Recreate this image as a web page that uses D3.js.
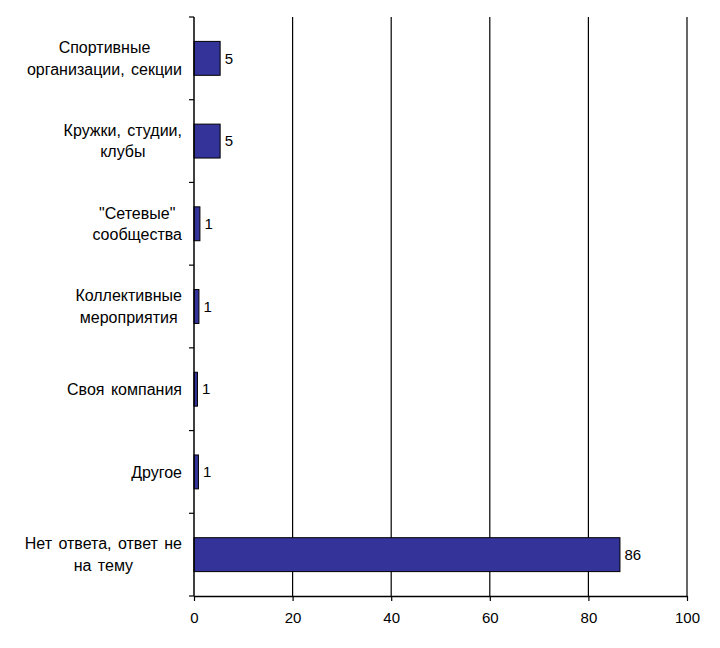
<!DOCTYPE html>
<html>
<head>
<meta charset="utf-8">
<script src="https://cdn.jsdelivr.net/npm/d3@7"></script>
<style>
  body { margin: 0; background: #fff; }
  svg { display: block; font-family: Arial, "Liberation Sans", sans-serif; }
</style>
</head>
<body>
<svg width="720" height="648"></svg>
<script>
const categories = [
  "Спортивные\nорганизации, секции",
  "Кружки, студии,\nклубы",
  "\"Сетевые\"\nсообщества",
  "Коллективные\nмероприятия",
  "Своя компания",
  "Другое",
  "Нет ответа, ответ не\nна тему"
];
const values = [5.3, 5.3, 1.2, 1.0, 0.7, 0.9, 86.4];
const xTicks = [0, 20, 40, 60, 80, 100];

const margin = { top: 17, right: 33, bottom: 52, left: 194 },
      width = 720 - margin.left - margin.right,
      height = 648 - margin.top - margin.bottom;
const fontSize = 15;

const svg = d3.select("svg")
  .append("g")
  .attr("transform", `translate(${margin.left},${margin.top})`);

const x = d3.scaleLinear().domain([0, 100]).range([0, width]);
const y = d3.scaleBand().domain(categories).range([0, height])
  .paddingInner(0.59).paddingOuter(0.295);

// vertical gridlines
svg.selectAll(".grid")
  .data(xTicks.filter(d => d > 0))
  .enter()
  .append("line")
  .attr("x1", d => x(d)).attr("x2", d => x(d))
  .attr("y1", 0).attr("y2", height)
  .attr("stroke", "#000").attr("stroke-width", 1.2);

// bars
svg.selectAll(".bar")
  .data(categories)
  .enter()
  .append("rect")
  .attr("x", x(0))
  .attr("y", d => y(d))
  .attr("width", (d, i) => x(values[i]) - x(0))
  .attr("height", y.bandwidth())
  .attr("fill", "#333399")
  .attr("stroke", "#000")
  .attr("stroke-width", 1);

// value labels
svg.selectAll(".val")
  .data(categories)
  .enter()
  .append("text")
  .attr("x", (d, i) => x(values[i]) + 4.5)
  .attr("y", d => y(d) + y.bandwidth() / 2)
  .attr("dy", "0.35em")
  .attr("font-size", fontSize)
  .text((d, i) => d3.format(".0f")(values[i]));

// x axis
const xAxis = svg.append("g")
  .attr("transform", `translate(0,${height})`)
  .call(d3.axisBottom(x).tickValues(xTicks).tickSize(5).tickSizeOuter(0).tickPadding(11));
xAxis.select(".domain").attr("stroke", "#000").attr("stroke-width", 1.5);
xAxis.selectAll(".tick line").attr("stroke", "#000").attr("stroke-width", 1.2);
xAxis.selectAll(".tick text").attr("font-size", fontSize).attr("font-family", "Arial, 'Liberation Sans', sans-serif").attr("fill", "#000");

// y axis line and category boundary ticks
svg.append("line")
  .attr("x1", 0).attr("x2", 0).attr("y1", 0).attr("y2", height)
  .attr("stroke", "#000").attr("stroke-width", 1.5);
svg.selectAll(".ytick")
  .data(d3.range(categories.length + 1))
  .enter()
  .append("line")
  .attr("x1", -5).attr("x2", 0)
  .attr("y1", i => i * y.step()).attr("y2", i => i * y.step())
  .attr("stroke", "#000").attr("stroke-width", 1.2);

// category labels, multiline, centered block right-aligned near axis
const lineH = 21.5;
categories.forEach(c => {
  const lines = c.split("\n");
  const cy = y(c) + y.bandwidth() / 2;
  const t = svg.append("text")
    .attr("font-size", 16)
    .attr("word-spacing", 2)
    .attr("text-anchor", "middle")
    .attr("fill", "#000");
  lines.forEach((ln, j) => {
    t.append("tspan")
      .attr("y", cy + (j - (lines.length - 1) / 2) * lineH)
      .attr("dy", "0.35em")
      .text(ln);
  });
  const w = d3.max(t.selectAll("tspan").nodes(), n => n.getComputedTextLength());
  t.selectAll("tspan").attr("x", -12 - w / 2);
});
</script>
</body>
</html>
